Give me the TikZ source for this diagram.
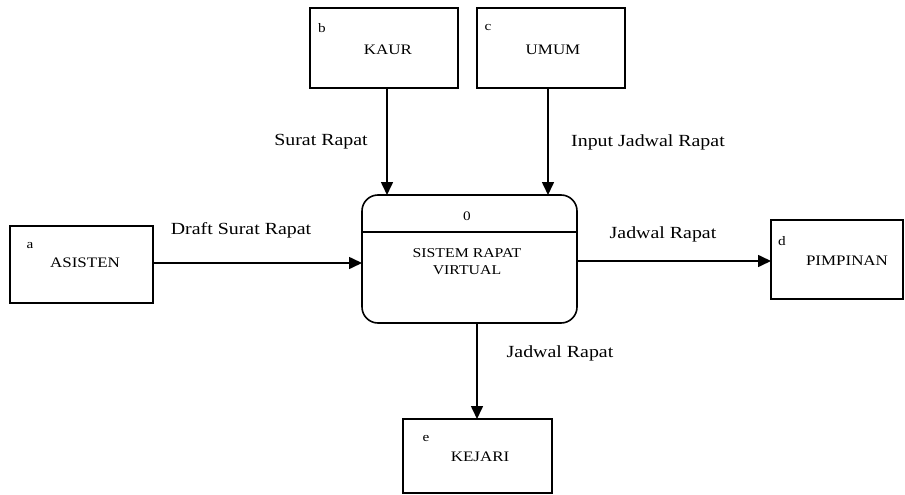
\documentclass[tikz,border=0pt]{standalone}
\usepackage{fontspec}
\setmainfont{Liberation Serif}[FakeStretch=1.17]
\usetikzlibrary{arrows.meta}
\begin{document}
\begin{tikzpicture}[x=1pt,y=-1pt,
  line width=1.6pt,
  boxtext/.style={font=\fontsize{14.5}{15}\selectfont},
  proctext/.style={font=\fontsize{13.5}{17}\selectfont, align=center},
  tag/.style={font=\fontsize{13}{14}\selectfont, inner sep=0pt},
  flowlabel/.style={font=\fontsize{17}{18}\selectfont, inner sep=0pt},
  flow/.style={-{Triangle[length=13pt,width=12pt]}}]
\useasboundingbox (0,0) rectangle (905,495);

% external entities
\draw (310,8) rectangle (458,88);
\node[tag] (tb) at (322,28) {b};
\node[boxtext] (kaur) at (388,50) {KAUR};
\coordinate (kaurS) at (387,88);

\draw (477,8) rectangle (625,88);
\node[tag] (tc) at (488,28) {c};
\node[boxtext] (umum) at (553,50) {UMUM};
\coordinate (umumS) at (548,88);

\draw (10,226) rectangle (153,303);
\node[tag] (ta) at (30,246) {a};
\node[boxtext] (asisten) at (85,263) {ASISTEN};
\coordinate (asistenE) at (153,263);

\draw (771,220) rectangle (903,299);
\node[tag] (td) at (782,241) {d};
\node[boxtext] (pimpinan) at (847,261) {PIMPINAN};
\coordinate (pimpinanW) at (771,261);

\draw (403,419) rectangle (552,493);
\node[tag] (te) at (426,438) {e};
\node[boxtext] (kejari) at (480,457) {KEJARI};
\coordinate (kejariN) at (477,419);

% process
\draw[rounded corners=16pt] (362,195) rectangle (577,323);
\draw (362,232) -- (577,232);
\node[tag] (pnum) at (467,216) {0};
\node[proctext] (proc) at (467,262) {SISTEM RAPAT\\VIRTUAL};
\coordinate (procNW) at (387,195);
\coordinate (procNE) at (548,195);
\coordinate (procW) at (362,263);
\coordinate (procE) at (577,261);
\coordinate (procS) at (477,323);

% data flows
\draw[flow] (kaurS) -- (procNW);
\draw[flow] (umumS) -- (procNE);
\draw[flow] (asistenE) -- (procW);
\draw[flow] (procE) -- (pimpinanW);
\draw[flow] (procS) -- (kejariN);

\node[flowlabel] (l1) at (321,142) {Surat Rapat};
\node[flowlabel] (l2) at (648,142) {Input Jadwal Rapat};
\node[flowlabel] (l3) at (241,230) {Draft Surat Rapat};
\node[flowlabel] (l4) at (663,234) {Jadwal Rapat};
\node[flowlabel] (l5) at (560,353) {Jadwal Rapat};
\end{tikzpicture}
\end{document}
